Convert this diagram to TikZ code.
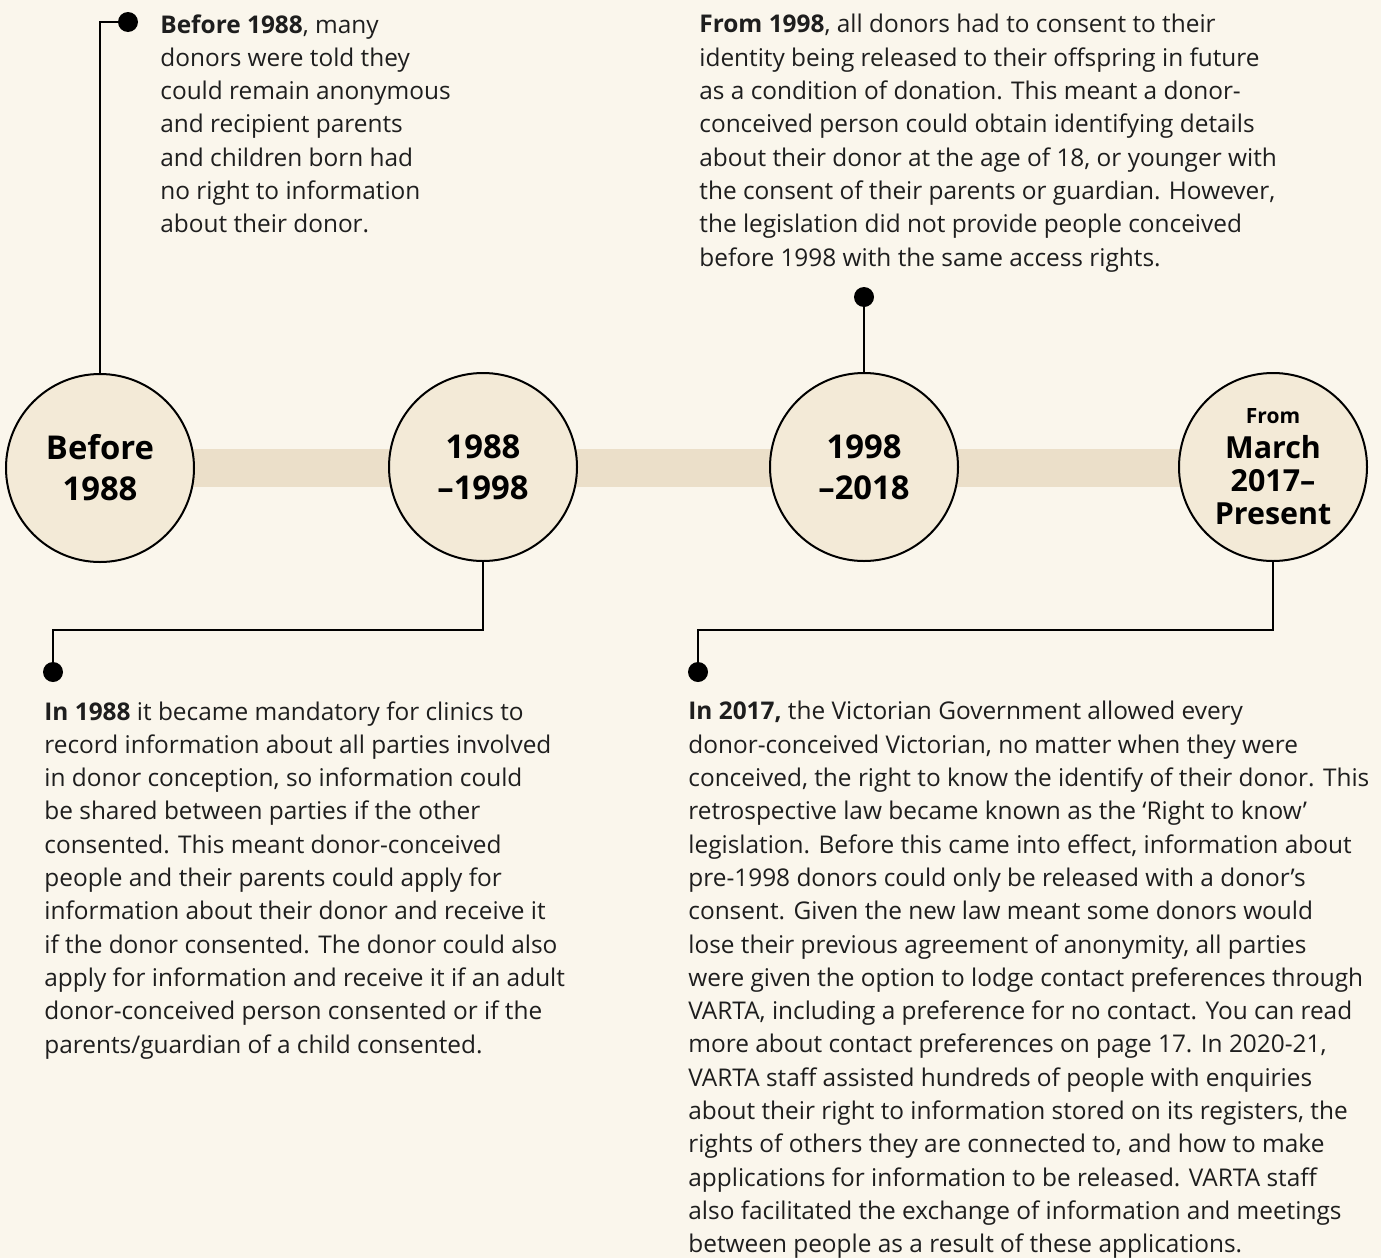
\documentclass[tikz,border=0pt]{standalone}
\usepackage{fontspec}
\setmainfont{Open Sans}
\definecolor{bgcol}{HTML}{FAF6EC}
\definecolor{circcol}{HTML}{F3EAD7}
\definecolor{bandcol}{HTML}{EBDFC9}
\definecolor{txtcol}{HTML}{1E1E1E}
\begin{document}
\begin{tikzpicture}[x=0.5pt,y=-0.5pt,
  era/.style={circle,draw=black,line width=1pt,fill=circcol,minimum size=94pt,inner sep=0pt},
  eralabel/.style={align=center,inner sep=0pt,text=black,font=\bfseries\fontsize{16.4}{20.5}\selectfont},
  dot/.style={circle,fill=black,minimum size=10pt,inner sep=0pt},
  link/.style={line width=1.25pt,draw=black},
  body/.style={anchor=north west,align=left,inner sep=0pt,text=txtcol,font=\fontsize{12.2}{16.65}\selectfont}]
\fill[bgcol] (0,0) rectangle (1381,1258);
\useasboundingbox (0,0) rectangle (1381,1258);
\fill[bandcol] (100,449) rectangle (1273,487);
% coordinates for elbows
\coordinate (elbow2) at (53,630);
\coordinate (elbow4) at (698,630);
% dots
\node[dot] (d1) at (128,22) {};
\node[dot] (d2) at (53,672) {};
\node[dot] (d3) at (864,297) {};
\node[dot] (d4) at (698,672) {};
% circles
\node[era] (c1) at (100,468) {};
\node[era] (c2) at (483,467) {};
\node[era] (c3) at (864,467) {};
\node[era] (c4) at (1273,467) {};
\node[eralabel] (t1) at (c1.center) {Before\\1988};
\node[eralabel] (t2) at (c2.center) {1988\\–1998};
\node[eralabel] (t3) at (c3.center) {1998\\–2018};
\node[eralabel,font=\bfseries\fontsize{15.2}{16.5}\selectfont] (t4) at (c4.center) {{\fontsize{10.5}{12}\selectfont From}\\[1pt]March\\2017–\\Present};
% connectors
\draw[link] (c1.north) |- (d1);
\draw[link] (c2.south) |- (elbow2) -- (d2);
\draw[link] (c3.north) -- (d3);
\draw[link] (c4.south) |- (elbow4) -- (d4);
% body texts
\node[body] (b1) at (160,14) {\textbf{Before 1988}, many\\
donors were told they\\
could remain anonymous\\
and recipient parents\\
and children born had\\
no right to information\\
about their donor.};
\node[body] (b3) at (699,14) {\textbf{From 1998}, all donors had to consent to their\\
identity being released to their offspring in future\\
as a condition of donation. This meant a donor-\\
conceived person could obtain identifying details\\
about their donor at the age of 18, or younger with\\
the consent of their parents or guardian. However,\\
the legislation did not provide people conceived\\
before 1998 with the same access rights.};
\node[body] (b2) at (44,701) {\textbf{In 1988} it became mandatory for clinics to\\
record information about all parties involved\\
in donor conception, so information could\\
be shared between parties if the other\\
consented. This meant donor-conceived\\
people and their parents could apply for\\
information about their donor and receive it\\
if the donor consented. The donor could also\\
apply for information and receive it if an adult\\
donor-conceived person consented or if the\\
parents/guardian of a child consented.};
\node[body] (b4) at (688,701) {\textbf{In 2017,} the Victorian Government allowed every\\
donor-conceived Victorian, no matter when they were\\
conceived, the right to know the identify of their donor. This\\
retrospective law became known as the ‘Right to know’\\
legislation. Before this came into effect, information about\\
pre-1998 donors could only be released with a donor’s\\
consent. Given the new law meant some donors would\\
lose their previous agreement of anonymity, all parties\\
were given the option to lodge contact preferences through\\
VARTA, including a preference for no contact. You can read\\
more about contact preferences on page 17. In 2020-21,\\
VARTA staff assisted hundreds of people with enquiries\\
about their right to information stored on its registers, the\\
rights of others they are connected to, and how to make\\
applications for information to be released. VARTA staff\\
also facilitated the exchange of information and meetings\\
between people as a result of these applications.};
\end{tikzpicture}
\end{document}
